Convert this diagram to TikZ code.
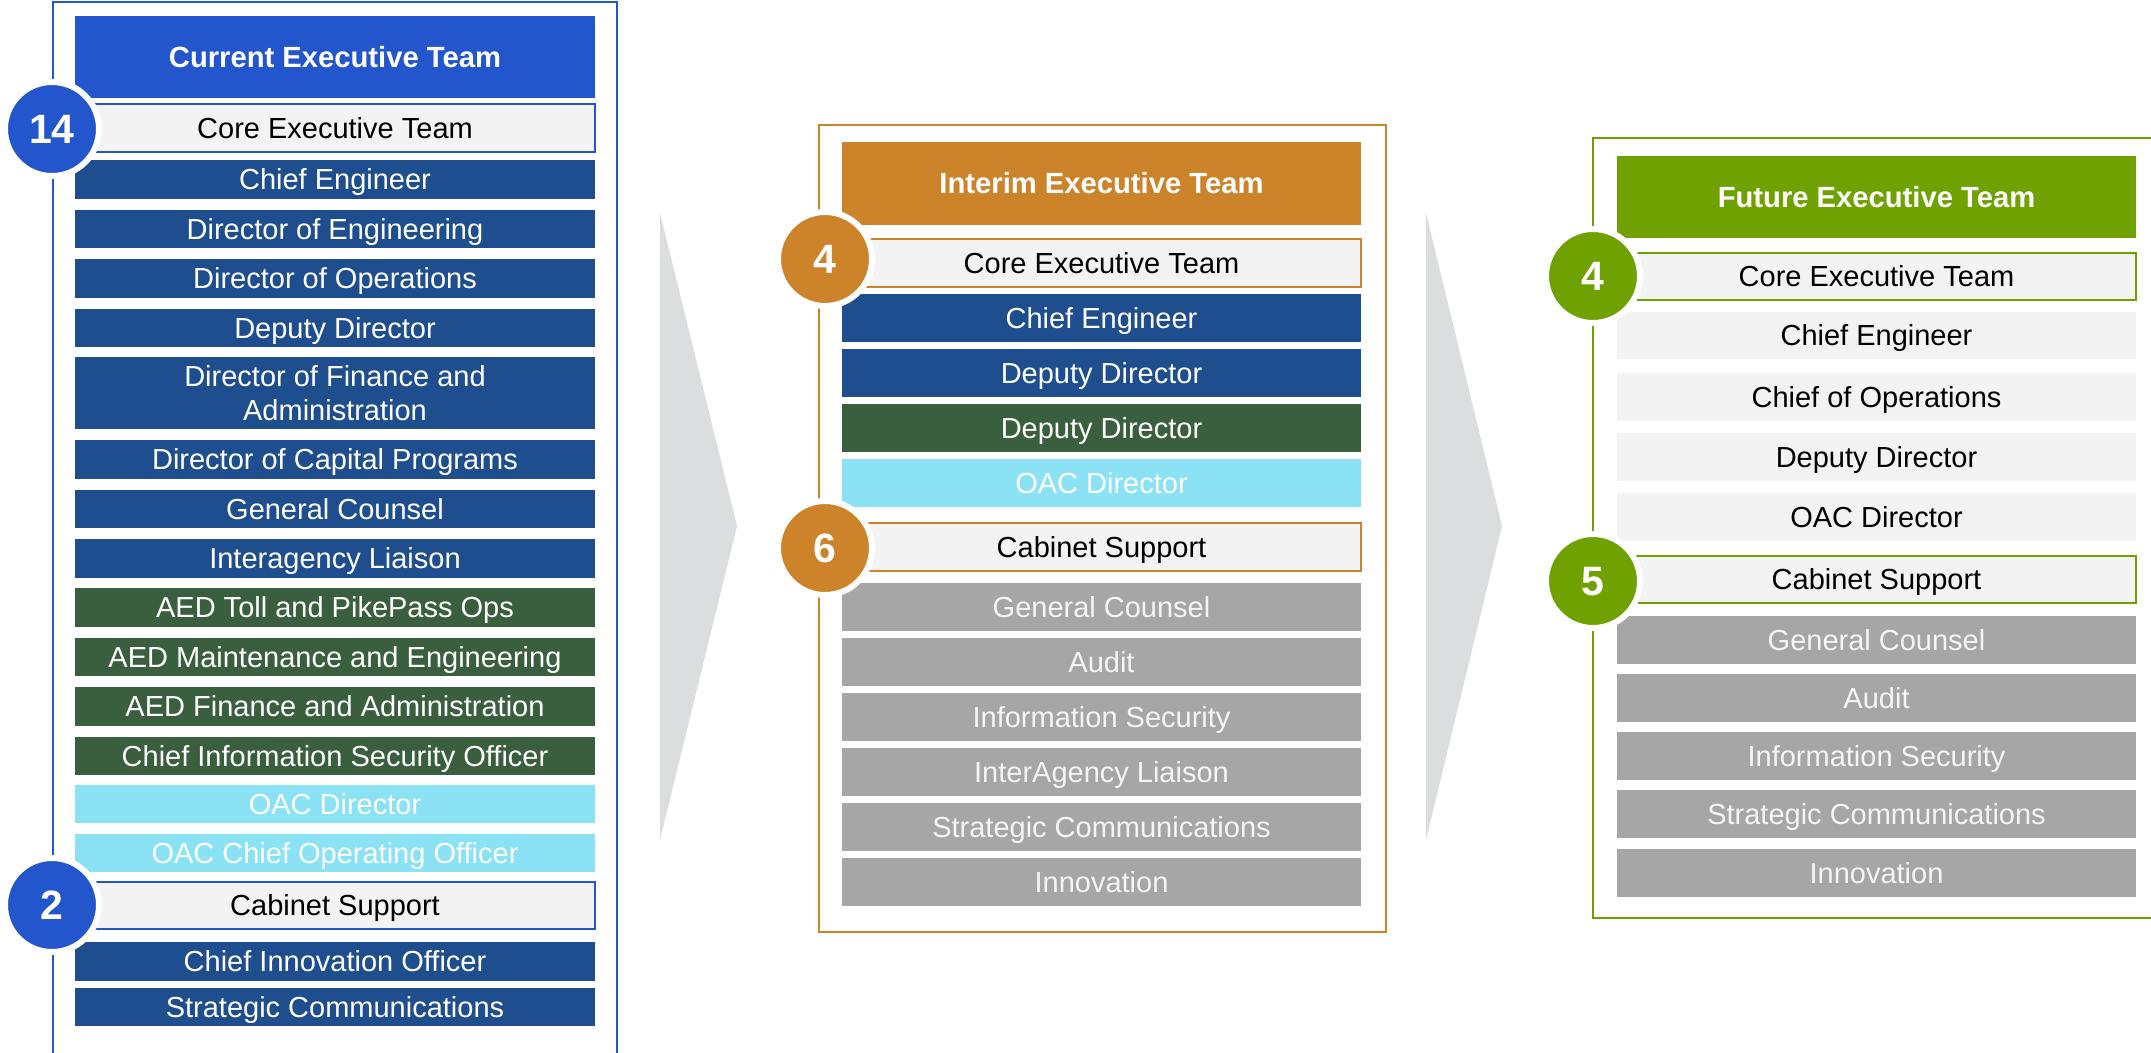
\documentclass[tikz,border=0pt]{standalone}
\usepackage{fontspec}
\setmainfont{Liberation Sans}
\definecolor{hblue}{HTML}{2356CC}
\definecolor{dblue}{HTML}{1F4E8E}
\definecolor{dgreen}{HTML}{3A5F3F}
\definecolor{cyanrow}{HTML}{8BE2F5}
\definecolor{grayrow}{HTML}{A6A6A6}
\definecolor{lgray}{HTML}{F3F3F3}
\definecolor{orng}{HTML}{CC8329}
\definecolor{lgreen}{HTML}{6FA200}
\definecolor{chev}{HTML}{DCDDDF}
\newcommand\orgrow[7]{%
  \pgfmathsetmacro\orgw{(#4-#3)*0.5}%
  \pgfmathsetmacro\orgh{(#6-#5)*0.5}%
  \node[#2, minimum width=\orgw pt, minimum height=\orgh pt] (#1) at ({(#3+#4)/2},{(#5+#6)/2}) {#7};}
\tikzset{
  rowplain/.style={rectangle, inner sep=0pt, align=center, font=\fontsize{14.5}{17}\selectfont},
  rowbase/.style={rowplain, text height=10.4pt, text depth=0pt},
  bluerow/.style={rowbase, fill=dblue, text=white},
  bluerowtwo/.style={rowplain, fill=dblue, text=white},
  greenrow/.style={rowbase, fill=dgreen, text=white},
  cyanbox/.style={rowbase, fill=cyanrow, text=white},
  graybox/.style={rowbase, fill=grayrow, text=white!96!black},
  lightbox/.style={rowbase, fill=lgray, text=black},
  corebox/.style={rowbase, fill=lgray, text=black, draw=#1, line width=1pt},
  headbox/.style={rowbase, fill=#1, text=white, font=\fontsize{14.6}{17}\selectfont\bfseries},
  badge/.style={circle, fill=#1, draw=white, line width=3pt, minimum size=47pt, inner sep=0pt, text=white, text height=14.7pt, text depth=0pt, font=\fontsize{20.5}{24}\selectfont\bfseries},
  frameline/.style={draw=#1, line width=1pt},
  chevron/.style={fill=chev}
}
\begin{document}
\begin{tikzpicture}[x=0.5pt,y=-0.5pt]
\useasboundingbox (0,0) rectangle (2151,1053);
\clip (0,0) rectangle (2151,1053);
% chevrons
\fill[chevron] (660,213) -- (737,526) -- (660,840) -- cycle;
\fill[chevron] (1426,213) -- (1502,526) -- (1426,840) -- cycle;
% frames
\draw[frameline=hblue] (53,1070) -- (53,2) -- (617,2) -- (617,1070);
\draw[frameline=orng] (819,125) rectangle (1386,932);
\draw[frameline=lgreen] (1593,138) rectangle (2170,918);
% current
\orgrow{cH}{headbox=hblue}{75}{595}{16}{98}{Current Executive Team}
\orgrow{cCore}{corebox=hblue}{75}{595}{104}{152}{Core Executive Team}
\orgrow{c1}{bluerow}{75}{595}{160}{199}{Chief Engineer}
\orgrow{c2}{bluerow}{75}{595}{210}{248}{Director of Engineering}
\orgrow{c3}{bluerow}{75}{595}{259}{298}{Director of Operations}
\orgrow{c4}{bluerow}{75}{595}{309}{347}{Deputy Director}
\orgrow{c5}{bluerowtwo}{75}{595}{357}{429}{Director of Finance and\\Administration}
\orgrow{c6}{bluerow}{75}{595}{440}{479}{Director of Capital Programs}
\orgrow{c7}{bluerow}{75}{595}{490}{528}{General Counsel}
\orgrow{c8}{bluerow}{75}{595}{539}{578}{Interagency Liaison}
\orgrow{c9}{greenrow}{75}{595}{588}{627}{AED Toll and PikePass Ops}
\orgrow{c10}{greenrow}{75}{595}{638}{676}{AED Maintenance and Engineering}
\orgrow{c11}{greenrow}{75}{595}{687}{726}{AED Finance and Administration}
\orgrow{c12}{greenrow}{75}{595}{737}{775}{Chief Information Security Officer}
\orgrow{c13}{cyanbox}{75}{595}{785}{823}{OAC Director}
\orgrow{c14}{cyanbox}{75}{595}{834}{872}{OAC Chief Operating Officer}
\orgrow{cCab}{corebox=hblue}{75}{595}{882}{929}{Cabinet Support}
\orgrow{c15}{bluerow}{75}{595}{942}{981}{Chief Innovation Officer}
\orgrow{c16}{bluerow}{75}{595}{988}{1026}{Strategic Communications}
\node[badge=hblue] (cN1) at (52,129) {14};
\node[badge=hblue] (cN2) at (52,905) {2};
% interim
\orgrow{iH}{headbox=orng}{842}{1361}{142}{225}{Interim Executive Team}
\orgrow{iCore}{corebox=orng}{842}{1361}{239}{287}{Core Executive Team}
\orgrow{i1}{bluerow}{842}{1361}{294}{342}{Chief Engineer}
\orgrow{i2}{bluerow}{842}{1361}{349}{397}{Deputy Director}
\orgrow{i3}{greenrow}{842}{1361}{404}{452}{Deputy Director}
\orgrow{i4}{cyanbox}{842}{1361}{459}{507}{OAC Director}
\orgrow{iCab}{corebox=orng}{842}{1361}{523}{571}{Cabinet Support}
\orgrow{i5}{graybox}{842}{1361}{583}{631}{General Counsel}
\orgrow{i6}{graybox}{842}{1361}{638}{686}{Audit}
\orgrow{i7}{graybox}{842}{1361}{693}{741}{Information Security}
\orgrow{i8}{graybox}{842}{1361}{748}{796}{InterAgency Liaison}
\orgrow{i9}{graybox}{842}{1361}{803}{851}{Strategic Communications}
\orgrow{i10}{graybox}{842}{1361}{858}{906}{Innovation}
\node[badge=orng] (iN1) at (825,259) {4};
\node[badge=orng] (iN2) at (825,548) {6};
% future
\orgrow{fH}{headbox=lgreen}{1617}{2136}{156}{238}{Future Executive Team}
\orgrow{fCore}{corebox=lgreen}{1617}{2136}{253}{300}{Core Executive Team}
\orgrow{f1}{lightbox}{1617}{2136}{312}{359}{Chief Engineer}
\orgrow{f2}{lightbox}{1617}{2136}{373}{421}{Chief of Operations}
\orgrow{f3}{lightbox}{1617}{2136}{433}{481}{Deputy Director}
\orgrow{f4}{lightbox}{1617}{2136}{493}{541}{OAC Director}
\orgrow{fCab}{corebox=lgreen}{1617}{2136}{556}{603}{Cabinet Support}
\orgrow{f5}{graybox}{1617}{2136}{616}{664}{General Counsel}
\orgrow{f6}{graybox}{1617}{2136}{674}{722}{Audit}
\orgrow{f7}{graybox}{1617}{2136}{732}{780}{Information Security}
\orgrow{f8}{graybox}{1617}{2136}{790}{838}{Strategic Communications}
\orgrow{f9}{graybox}{1617}{2136}{849}{897}{Innovation}
\node[badge=lgreen] (fN1) at (1593,276) {4};
\node[badge=lgreen] (fN2) at (1593,581) {5};
\end{tikzpicture}
\end{document}
